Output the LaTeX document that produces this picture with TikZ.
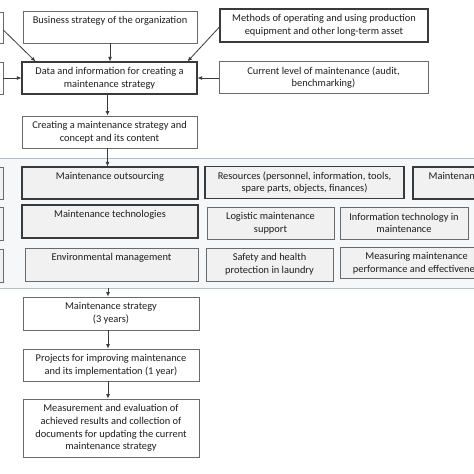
\documentclass[tikz,border=0pt]{standalone}
\usepackage{fontspec}
\setmainfont{Carlito}
\usetikzlibrary{arrows.meta,calc}
\definecolor{boxline}{HTML}{3A3A3A}
\definecolor{thinline}{HTML}{6A6A6A}
\definecolor{boxfill}{HTML}{F1F1F1}
\definecolor{grpfill}{HTML}{F6F7F9}
\definecolor{grpline}{HTML}{B4BFCB}
\definecolor{txt}{HTML}{1E1E1E}
\tikzset{
  x=1pt, y=-1pt,
  every node/.style={font=\fontsize{10.4}{12.7}\selectfont, text=txt},
  box/.style={draw=thinline, line width=0.7pt, fill=white, rectangle, inner sep=2pt, align=center},
  tbox/.style={box, draw=boxline, line width=1.1pt},
  gbox/.style={box, fill=boxfill},
  tgbox/.style={tbox, fill=boxfill},
  toptext/.style={label={[anchor=center, yshift=-10pt, inner sep=0pt, font=\fontsize{10.4}{12.7}\selectfont, text=txt]north:#1}},
  arr/.style={draw=boxline, line width=0.8pt, -{Latex[length=4.5pt,width=4pt]}},
}
\begin{document}
\begin{tikzpicture}
\clip (0,0) rectangle (474,474);
\fill[white] (0,0) rectangle (474,474);
% top section
\node[box, minimum width=33pt, minimum height=31pt] (lt) at (-13.5,27.5) {};
\node[box, minimum width=174pt, minimum height=32pt, toptext={Business strategy of the organization}] (bs) at (110,27) {};
\node[tbox, minimum width=208pt, minimum height=33pt] (me) at (324,25.5) {Methods of operating and using production\\equipment and other long-term asset};
\node[box, minimum width=33pt, minimum height=32pt] (lm) at (-13.5,78) {};
\node[tbox, minimum width=175pt, minimum height=32pt] (data) at (109.5,78) {Data and information for creating a\\maintenance strategy};
\node[box, minimum width=209pt, minimum height=32pt] (cur) at (323.5,77.5) {Current level of maintenance (audit,\\benchmarking)};
\node[box, minimum width=175pt, minimum height=32pt] (cre) at (109.5,132) {Creating a maintenance strategy and\\concept and its content};
% group
\node[draw=grpline, fill=grpfill, line width=0.8pt, rectangle, minimum width=494pt, minimum height=130pt] (grp) at (237,223) {};
\node[gbox, minimum width=33pt, minimum height=32pt] (g1l) at (-13.5,183) {};
\node[tgbox, minimum width=176pt, minimum height=32pt, toptext={Maintenance outsourcing}] (outs) at (110,183) {};
\node[tgbox, minimum width=199pt, minimum height=32pt] (res) at (304.5,182.5) {Resources (personnel, information, tools,\\spare parts, objects, finances)};
\node[tgbox, minimum width=87pt, minimum height=32pt] (mai) at (456.5,183) {};
\node[anchor=east, inner sep=0pt] (maitxt) at (475,175.5) {Maintenan};
\node[gbox, minimum width=33pt, minimum height=33pt] (g2l) at (-13.5,223.5) {};
\node[tgbox, minimum width=176pt, minimum height=33pt, toptext={Maintenance technologies}] (tech) at (110,221.5) {};
\node[gbox, minimum width=127pt, minimum height=32pt] (log) at (270.5,223) {Logistic maintenance\\support};
\node[gbox, minimum width=128pt, minimum height=32pt] (it) at (404,223) {Information technology in\\maintenance};
\node[gbox, minimum width=33pt, minimum height=33pt] (g3l) at (-13.5,265.5) {};
\node[gbox, minimum width=173pt, minimum height=33pt, toptext={Environmental management}] (env) at (111.5,264.5) {};
\node[gbox, minimum width=127pt, minimum height=33pt] (saf) at (269.5,264.5) {Safety and health\\protection in laundry};
\node[gbox, minimum width=160pt, minimum height=31pt] (mea) at (420,262.5) {};
\node[anchor=east, inner sep=0pt, align=right] (meatxt) at (475,263) {Measuring maintenance\hspace*{7pt}\\performance and effectivene};
% bottom
\node[box, minimum width=176pt, minimum height=33pt] (ms) at (111,313.5) {Maintenance strategy\\(3 years)};
\node[box, minimum width=176pt, minimum height=32pt] (pr) at (111,365) {Projects for improving maintenance\\and its implementation (1 year)};
\node[box, minimum width=176pt, minimum height=58pt] (mr) at (111,428) {Measurement and evaluation of\\achieved results and collection of\\documents for updating the current\\maintenance strategy};
% connectors
\draw[arr] ([yshift=-2.5pt]lt.east) -- ([xshift=14pt]data.north west);
\draw[arr] ([yshift=-1.5pt]me.west) -- ([xshift=-10pt]data.north east);
\draw[arr] (bs.south) -- (bs.south |- data.north);
\draw[arr] (lm.east) -- (data.west);
\draw[arr] (cur.west |- data.east) -- (data.east);
\draw[arr] ([xshift=-2pt]data.south) -- ([xshift=-2pt]cre.north);
\draw[arr] ([xshift=-2pt]cre.south) -- ([xshift=-2pt]cre.south |- outs.north);
\draw[arr] ([xshift=-3pt]ms.north |- grp.south) -- ([xshift=-3pt]ms.north);
\draw[arr] ([xshift=-3pt]ms.south) -- ([xshift=-3pt]pr.north);
\draw[arr] ([xshift=-3pt]pr.south) -- ([xshift=-3pt]mr.north);
\end{tikzpicture}
\end{document}
